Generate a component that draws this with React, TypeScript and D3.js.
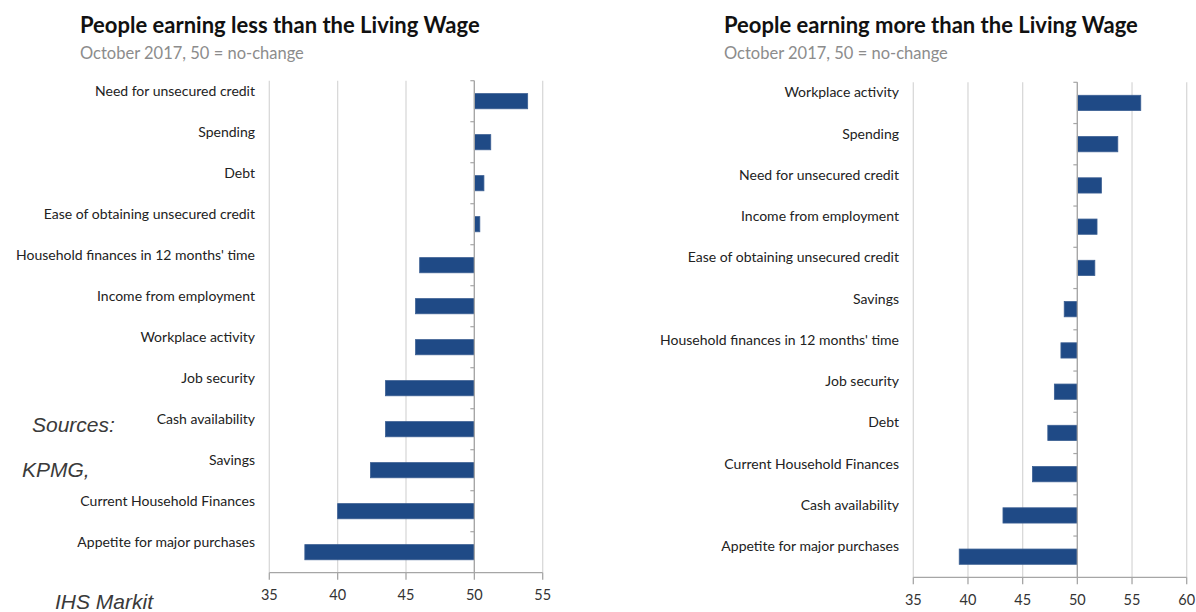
import { scaleBand, scaleLinear } from "d3";

const WIDTH = 1196;
const HEIGHT = 612;

const lessCategories = [
  "Need for unsecured credit",
  "Spending",
  "Debt",
  "Ease of obtaining unsecured credit",
  "Household finances in 12 months' time",
  "Income from employment",
  "Workplace activity",
  "Job security",
  "Cash availability",
  "Savings",
  "Current Household Finances",
  "Appetite for major purchases",
];
const lessValues = [53.9, 51.2, 50.7, 50.4, 46.0, 45.7, 45.7, 43.5, 43.5, 42.4, 40.0, 37.6];
const lessTicks = [35, 40, 45, 50, 55];

const moreCategories = [
  "Workplace activity",
  "Spending",
  "Need for unsecured credit",
  "Income from employment",
  "Ease of obtaining unsecured credit",
  "Savings",
  "Household finances in 12 months' time",
  "Job security",
  "Debt",
  "Current Household Finances",
  "Cash availability",
  "Appetite for major purchases",
];
const moreValues = [55.8, 53.7, 52.2, 51.8, 51.6, 48.8, 48.5, 47.9, 47.3, 45.9, 43.2, 39.2];
const moreTicks = [35, 40, 45, 50, 55, 60];

const SUBTITLE = "October 2017, 50 = no-change";
const BASELINE = 50;

const LABEL_FONT = "Lato, 'Open Sans', sans-serif";
const BAR_FILL = "#1f4a86";
const GRID = "#d9d9d9";
const AXIS = "#a6a6a6";

type PanelProps = {
  title: string;
  categories: string[];
  values: number[];
  ticks: number[];
  titleX: number;
  x0: number;
  x1: number;
  top: number;
  bottom: number;
  labelX: number;
};

function Panel({ title, categories, values, ticks, titleX, x0, x1, top, bottom, labelX }: PanelProps) {
  const x = scaleLinear()
    .domain([ticks[0], ticks[ticks.length - 1]])
    .range([x0, x1]);
  const y = scaleBand<string>().domain(categories).range([top, bottom]).paddingInner(0.63).paddingOuter(0.315);
  const band = scaleBand<string>().domain(categories).range([top, bottom]);
  const zero = x(BASELINE);

  return (
    <g>
      <text x={titleX} y={33} fontFamily={LABEL_FONT} fontWeight="bold" fontSize={22} fill="#111">
        {title}
      </text>
      <text x={titleX} y={59} fontFamily={LABEL_FONT} fontSize={16.5} fill="#8c8c8c">
        {SUBTITLE}
      </text>

      {ticks.map((t) => (
        <line key={`g${t}`} x1={x(t)} x2={x(t)} y1={top} y2={bottom} stroke={GRID} strokeWidth={1.3} />
      ))}

      {categories.map((c, i) => {
        const v = values[i];
        const bx = Math.min(x(v), zero);
        return (
          <rect
            key={c}
            x={bx}
            y={y(c)}
            width={Math.abs(x(v) - zero)}
            height={y.bandwidth()}
            fill={BAR_FILL}
            stroke="#3b5f93"
            strokeWidth={0.8}
          />
        );
      })}

      {/* category axis crossing at 50 */}
      <line x1={zero} x2={zero} y1={top} y2={bottom} stroke={AXIS} strokeWidth={1.3} />
      {categories.map((c) => (
        <line key={`t${c}`} x1={zero - 4} x2={zero} y1={band(c)} y2={band(c)} stroke={AXIS} strokeWidth={1.2} />
      ))}

      {categories.map((c) => (
        <text
          key={`l${c}`}
          x={labelX}
          y={(band(c) ?? 0) + band.bandwidth() / 2 - 9}
          textAnchor="end"
          dominantBaseline="middle"
          fontFamily={LABEL_FONT}
          fontSize={14}
          fill="#222"
        >
          {c}
        </text>
      ))}

      {/* value axis */}
      <line x1={x0} x2={x1} y1={bottom} y2={bottom} stroke={AXIS} strokeWidth={1.3} />
      {ticks.map((t) => (
        <g key={`x${t}`}>
          <line x1={x(t)} x2={x(t)} y1={bottom} y2={bottom + 7} stroke={AXIS} strokeWidth={1.3} />
          <text
            x={x(t)}
            y={bottom + 24}
            textAnchor="middle"
            dominantBaseline="middle"
            fontFamily={LABEL_FONT}
            fontSize={14.5}
            fill="#333"
          >
            {t}
          </text>
        </g>
      ))}
    </g>
  );
}

export default function App() {
  return (
    <div style={{ position: "absolute", left: 0, top: 0 }}>
      <svg width={WIDTH} height={HEIGHT} viewBox={`0 0 ${WIDTH} ${HEIGHT}`} style={{ display: "block", background: "#fff" }}>
        <rect x={0} y={0} width={WIDTH} height={HEIGHT} fill="#fff" />
        <Panel
          title="People earning less than the Living Wage"
          categories={lessCategories}
          values={lessValues}
          ticks={lessTicks}
          titleX={80}
          x0={269.3}
          x1={542.7}
          top={80.7}
          bottom={572.7}
          labelX={255}
        />
        <Panel
          title="People earning more than the Living Wage"
          categories={moreCategories}
          values={moreValues}
          ticks={moreTicks}
          titleX={724}
          x0={913.3}
          x1={1186.7}
          top={82.3}
          bottom={577.3}
          labelX={899}
        />
        <g fontFamily="'Liberation Sans', Arial, sans-serif" fontStyle="italic" fontSize={21} fill="#3a3a3a">
          <text x={32} y={432}>Sources:</text>
          <text x={22} y={477}>KPMG,</text>
          <text x={55} y={609}>IHS Markit</text>
        </g>
      </svg>
    </div>
  );
}
